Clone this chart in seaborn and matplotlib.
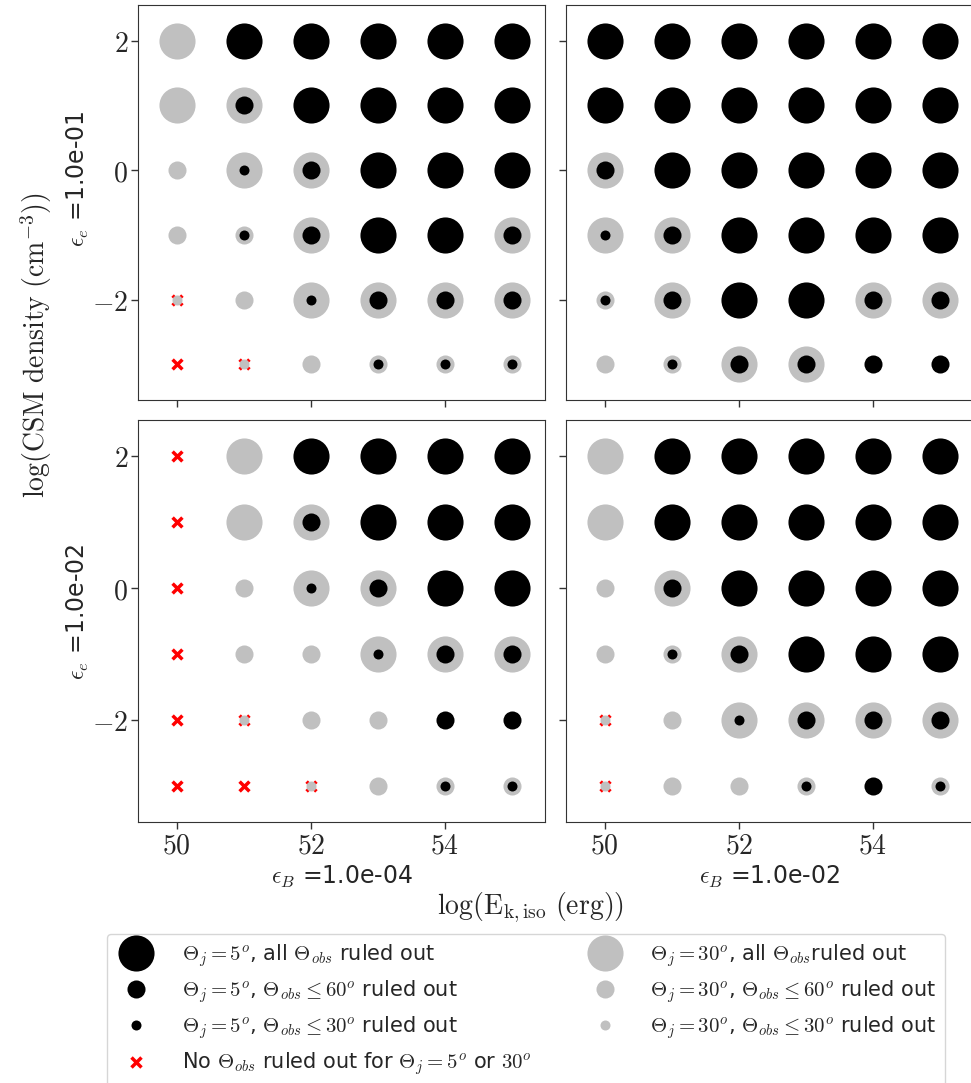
import pandas as pd
import seaborn as sns
import matplotlib.pyplot as plt
from matplotlib.lines import Line2D
from matplotlib.ticker import FuncFormatter

sns.set_style('ticks')
plt.rcParams['font.family'] = ['DejaVu Sans']
plt.rcParams['mathtext.fontset'] = 'cm'

# grid of the parameter scan
log_E = [50, 51, 52, 53, 54, 55]
log_n = [2, 1, 0, -1, -2, -3]

# level codes: 0 = nothing, 1 = <=30 deg ruled out, 2 = <=60 deg ruled out, 3 = all ruled out
# rows follow log_n (top to bottom), columns follow log_E
grey_ee1_eb4 = [[3, 0, 0, 0, 0, 0],
                [3, 3, 0, 0, 0, 0],
                [2, 3, 3, 0, 0, 0],
                [2, 2, 3, 0, 0, 3],
                [1, 2, 3, 3, 3, 3],
                [0, 1, 2, 2, 2, 2]]
black_ee1_eb4 = [[0, 3, 3, 3, 3, 3],
                 [0, 2, 3, 3, 3, 3],
                 [0, 1, 2, 3, 3, 3],
                 [0, 1, 2, 3, 3, 2],
                 [0, 0, 1, 2, 2, 2],
                 [0, 0, 0, 1, 1, 1]]
cross_ee1_eb4 = [[0, 0, 0, 0, 0, 0],
                 [0, 0, 0, 0, 0, 0],
                 [0, 0, 0, 0, 0, 0],
                 [0, 0, 0, 0, 0, 0],
                 [1, 0, 0, 0, 0, 0],
                 [1, 1, 0, 0, 0, 0]]

grey_ee1_eb2 = [[0, 0, 0, 0, 0, 0],
                [0, 0, 0, 0, 0, 0],
                [3, 0, 0, 0, 0, 0],
                [3, 3, 0, 0, 0, 0],
                [2, 3, 0, 0, 3, 3],
                [2, 2, 3, 3, 0, 0]]
black_ee1_eb2 = [[3, 3, 3, 3, 3, 3],
                 [3, 3, 3, 3, 3, 3],
                 [2, 3, 3, 3, 3, 3],
                 [1, 2, 3, 3, 3, 3],
                 [1, 2, 3, 3, 2, 2],
                 [0, 1, 2, 2, 2, 2]]
cross_ee1_eb2 = [[0, 0, 0, 0, 0, 0],
                 [0, 0, 0, 0, 0, 0],
                 [0, 0, 0, 0, 0, 0],
                 [0, 0, 0, 0, 0, 0],
                 [0, 0, 0, 0, 0, 0],
                 [0, 0, 0, 0, 0, 0]]

grey_ee2_eb4 = [[0, 3, 0, 0, 0, 0],
                [0, 3, 3, 0, 0, 0],
                [0, 2, 3, 3, 0, 0],
                [0, 2, 2, 3, 3, 3],
                [0, 1, 2, 2, 0, 0],
                [0, 0, 1, 2, 2, 2]]
black_ee2_eb4 = [[0, 0, 3, 3, 3, 3],
                 [0, 0, 2, 3, 3, 3],
                 [0, 0, 1, 2, 3, 3],
                 [0, 0, 0, 1, 2, 2],
                 [0, 0, 0, 0, 2, 2],
                 [0, 0, 0, 0, 1, 1]]
cross_ee2_eb4 = [[1, 0, 0, 0, 0, 0],
                 [1, 0, 0, 0, 0, 0],
                 [1, 0, 0, 0, 0, 0],
                 [1, 0, 0, 0, 0, 0],
                 [1, 1, 0, 0, 0, 0],
                 [1, 1, 1, 0, 0, 0]]

grey_ee2_eb2 = [[3, 0, 0, 0, 0, 0],
                [3, 0, 0, 0, 0, 0],
                [2, 3, 0, 0, 0, 0],
                [2, 2, 3, 0, 0, 0],
                [1, 2, 3, 3, 3, 3],
                [1, 2, 2, 2, 0, 2]]
black_ee2_eb2 = [[0, 3, 3, 3, 3, 3],
                 [0, 3, 3, 3, 3, 3],
                 [0, 2, 3, 3, 3, 3],
                 [0, 1, 2, 3, 3, 3],
                 [0, 0, 1, 2, 2, 2],
                 [0, 0, 0, 1, 2, 1]]
cross_ee2_eb2 = [[0, 0, 0, 0, 0, 0],
                 [0, 0, 0, 0, 0, 0],
                 [0, 0, 0, 0, 0, 0],
                 [0, 0, 0, 0, 0, 0],
                 [1, 0, 0, 0, 0, 0],
                 [1, 0, 0, 0, 0, 0]]

ee_labels = ['1.0e-01', '1.0e-02']
eb_labels = ['1.0e-04', '1.0e-02']

legend_labels = [
    r'$\Theta_j = 5^o$, all $\Theta_{obs}$ ruled out',
    r'$\Theta_j = 5^o$, $\Theta_{obs} \leq 60^o$ ruled out',
    r'$\Theta_j = 5^o$, $\Theta_{obs} \leq 30^o$ ruled out',
    r'No $\Theta_{obs}$ ruled out for $\Theta_j = 5^o$ or $30^o$',
    r'$\Theta_j = 30^o$, all $\Theta_{obs}$ruled out',
    r'$\Theta_j = 30^o$, $\Theta_{obs} \leq 60^o$ ruled out',
    r'$\Theta_j = 30^o$, $\Theta_{obs} \leq 30^o$ ruled out',
]

panels = [[(grey_ee1_eb4, black_ee1_eb4, cross_ee1_eb4), (grey_ee1_eb2, black_ee1_eb2, cross_ee1_eb2)],
          [(grey_ee2_eb4, black_ee2_eb4, cross_ee2_eb4), (grey_ee2_eb2, black_ee2_eb2, cross_ee2_eb2)]]

# marker diameters in points for levels 1..3
msize = {1: 7.2, 2: 13.0, 3: 26.0}
GREY = '#c0c0c0'


def to_long(grid):
    rows = []
    for i, n in enumerate(log_n):
        for j, e in enumerate(log_E):
            if grid[i][j]:
                rows.append({'logE': e, 'logn': n, 'level': grid[i][j]})
    return pd.DataFrame(rows, columns=['logE', 'logn', 'level'])


W, H = 971, 1083
fig = plt.figure(figsize=(W / 100, H / 100), dpi=100)
xs = [(138, 545), (566, 973)]
ys = [(5, 400), (420, 822)]
axes = [[None, None], [None, None]]
for r in range(2):
    for c in range(2):
        x0, x1 = xs[c]
        y0, y1 = ys[r]
        share = axes[0][0]
        ax = fig.add_axes([x0 / W, 1 - y1 / H, (x1 - x0) / W, (y1 - y0) / H],
                          sharex=share, sharey=share)
        axes[r][c] = ax

fmt = FuncFormatter(lambda v, p: r'$%d$' % v if v >= 0 else r'$-%d$' % -v)

for r in range(2):
    for c in range(2):
        ax = axes[r][c]
        grey, black, cross = panels[r][c]
        dc = to_long(cross)
        if len(dc):
            sns.scatterplot(data=dc, x='logE', y='logn', marker='x', color='red',
                            s=50, linewidth=2.5, ax=ax, legend=False, zorder=2)
        for grid, col, z in [(grey, GREY, 3), (black, 'black', 4)]:
            d = to_long(grid)
            for lev in [3, 2, 1]:
                sub = d[d['level'] == lev]
                if len(sub):
                    sns.scatterplot(data=sub, x='logE', y='logn', color=col,
                                    s=msize[lev] ** 2, linewidth=0, ax=ax,
                                    legend=False, zorder=z)
        ax.set_xlim(49.42, 55.5)
        ax.set_ylim(-3.55, 2.55)
        ax.set_xticks([50, 52, 54])
        ax.set_yticks([-2, 0, 2])
        ax.xaxis.set_major_formatter(fmt)
        ax.yaxis.set_major_formatter(fmt)
        ax.tick_params(labelsize=20, length=5, width=1, color='0.2', pad=2)
        ax.set_xlabel('')
        ax.set_ylabel('')
        for sp in ax.spines.values():
            sp.set_visible(True)
            sp.set_color('0.2')
        if r == 0:
            ax.tick_params(labelbottom=False)
        if c == 1:
            ax.tick_params(labelleft=False)

# panel annotations
fig.text(78 / W, 1 - 179 / H, r'$\epsilon_e$ =' + ee_labels[0], rotation=90,
         ha='center', va='center', fontsize=17)
fig.text(78 / W, 1 - 612 / H, r'$\epsilon_e$ =' + ee_labels[1], rotation=90,
         ha='center', va='center', fontsize=17)
fig.text(342 / W, 1 - 877 / H, r'$\epsilon_B$ =' + eb_labels[0],
         ha='center', va='center', fontsize=17)
fig.text(770 / W, 1 - 877 / H, r'$\epsilon_B$ =' + eb_labels[1],
         ha='center', va='center', fontsize=17)
fig.text(530 / W, 1 - 908 / H, r'$\log(\mathrm{E_{k,iso}\ (erg)})$',
         ha='center', va='center', fontsize=20)
fig.text(36 / W, 1 - 345 / H, r'$\log(\mathrm{CSM\ density\ (cm^{-3})})$',
         rotation=90, ha='center', va='center', fontsize=20)

handles = [
    Line2D([], [], ls='', marker='o', color='black', mew=0, markersize=msize[3]),
    Line2D([], [], ls='', marker='o', color='black', mew=0, markersize=msize[2]),
    Line2D([], [], ls='', marker='o', color='black', mew=0, markersize=msize[1]),
    Line2D([], [], ls='', marker='x', color='red', mew=2.5, markersize=7),
    Line2D([], [], ls='', marker='o', color=GREY, mew=0, markersize=msize[3]),
    Line2D([], [], ls='', marker='o', color=GREY, mew=0, markersize=msize[2]),
    Line2D([], [], ls='', marker='o', color=GREY, mew=0, markersize=msize[1]),
]
fig.legend(handles, legend_labels, ncol=2, loc='upper left',
           bbox_to_anchor=(107 / W, 1 - 934 / H), fontsize=15,
           labelspacing=0.45, handletextpad=1.2, columnspacing=2.5,
           borderpad=0.4, borderaxespad=0, frameon=True, fancybox=True,
           edgecolor='0.8')

fig.savefig('out.png', dpi=100)
